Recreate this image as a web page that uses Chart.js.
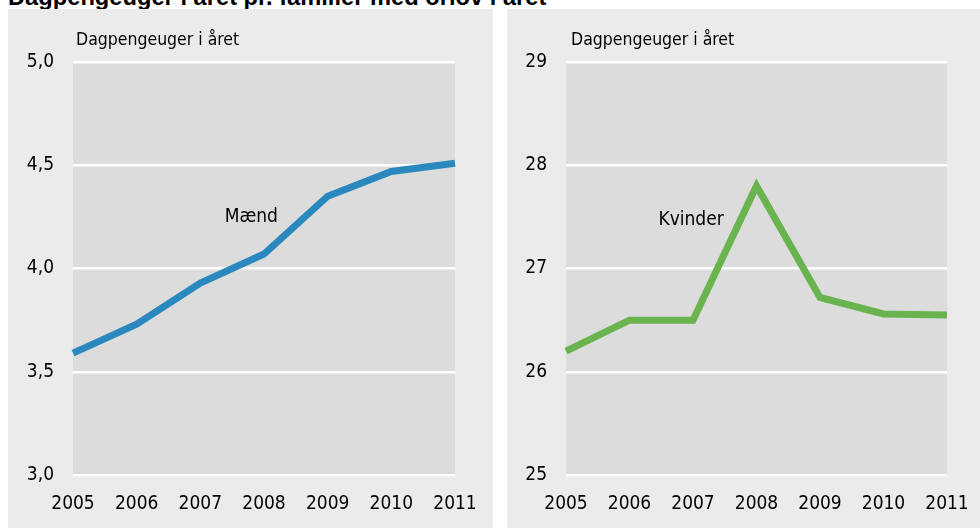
<!DOCTYPE html>
<html><head><meta charset="utf-8">
<script src="https://cdn.jsdelivr.net/npm/chart.js@4/dist/chart.umd.min.js"></script>
<style>
html,body{margin:0;padding:0;background:#fff;width:980px;height:529px;overflow:hidden;position:relative;font-family:'Liberation Sans Narrow','DejaVu Sans Condensed',sans-serif;}
#title{position:absolute;left:8px;top:-15px;font-family:'Liberation Sans','Arial',sans-serif;font-weight:bold;font-size:23.7px;line-height:24px;color:#000;white-space:nowrap;}
.panel{position:absolute;top:9px;height:519px;background:#ebebeb;}
.panel canvas{position:absolute;left:0;top:0;}
.ylab{position:absolute;font-size:17.5px;color:#000;white-space:nowrap;}
</style></head><body>
<div id="title">Dagpengeuger i året pr. familier med orlov i året</div>
<div class="panel" id="p1" style="left:8px;width:485px;"><canvas id="c1" width="485" height="519"></canvas><div class="ylab" style="left:68px;top:20px;">Dagpengeuger i året</div></div>
<div class="panel" id="p2" style="left:507px;width:473px;"><canvas id="c2" width="473" height="519"></canvas><div class="ylab" style="left:64px;top:20px;">Dagpengeuger i året</div></div>
<script>
const years = ['2005','2006','2007','2008','2009','2010','2011'];
const maend = [3.59, 3.73, 3.93, 4.07, 4.35, 4.47, 4.51];
const kvinder = [26.2, 26.5, 26.5, 27.8, 26.72, 26.56, 26.55];
const maendTicks = [3.0, 3.5, 4.0, 4.5, 5.0];
const kvinderTicks = [25, 26, 27, 28, 29];

const FONT = "'Liberation Sans Narrow','DejaVu Sans Condensed',sans-serif";
Chart.defaults.font.family = FONT;
Chart.defaults.color = '#000';

const bgPlugin = {
  id: 'plotbg',
  beforeDraw(chart) {
    const {ctx, chartArea: a} = chart;
    ctx.save();
    ctx.fillStyle = '#dcdcdc';
    ctx.fillRect(a.left, a.top, a.right - a.left, a.bottom - a.top);
    ctx.restore();
  }
};
const labelPlugin = {
  id: 'seriesLabel',
  afterDatasetsDraw(chart, args, opts) {
    const {ctx, scales} = chart;
    ctx.save();
    ctx.font = '19px ' + FONT;
    ctx.fillStyle = '#000';
    ctx.textAlign = 'center';
    ctx.textBaseline = 'middle';
    ctx.fillText(opts.text, scales.x.getPixelForValue(opts.xi), scales.y.getPixelForValue(opts.yv));
    ctx.restore();
  }
};

function makeChart(id, data, color, ticks, decimals, label, lx, ly, leftW, rightPad) {
  return new Chart(document.getElementById(id), {
    type: 'line',
    data: { labels: years, datasets: [{ data: data, borderColor: color, borderWidth: 7, pointRadius: 0, tension: 0, borderCapStyle: 'butt', borderJoinStyle: 'miter' }] },
    options: {
      responsive: false, animation: false,
      layout: { padding: { left: 0, right: rightPad, top: 53, bottom: 0 } },
      plugins: { legend: { display: false }, tooltip: { enabled: false }, seriesLabel: { text: label, xi: lx, yv: ly } },
      scales: {
        x: {
          offset: false,
          grid: { display: false, drawTicks: false },
          border: { display: false },
          ticks: { font: { size: 19 }, padding: 18, maxRotation: 0, autoSkip: false },
          afterFit(s) { s.height = 53; s.paddingLeft = 0; s.paddingRight = 0; }
        },
        y: {
          min: ticks[0], max: ticks[ticks.length - 1],
          afterBuildTicks(s) { s.ticks = ticks.map(v => ({ value: v })); },
          grid: { color: '#ffffff', lineWidth: 2.5, drawTicks: false },
          border: { display: false },
          ticks: { font: { size: 19 }, padding: 19, callback: v => v.toFixed(decimals).replace('.', ',') },
          afterFit(s) { s.width = leftW; s.paddingTop = 0; s.paddingBottom = 0; }
        }
      }
    },
    plugins: [bgPlugin, labelPlugin]
  });
}
makeChart('c1', maend, '#2a88bf', maendTicks, 1, 'Mænd', 2.8, 4.25, 65, 38);
makeChart('c2', kvinder, '#69b44e', kvinderTicks, 0, 'Kvinder', 1.97, 27.47, 59, 33);
</script>
</body></html>
